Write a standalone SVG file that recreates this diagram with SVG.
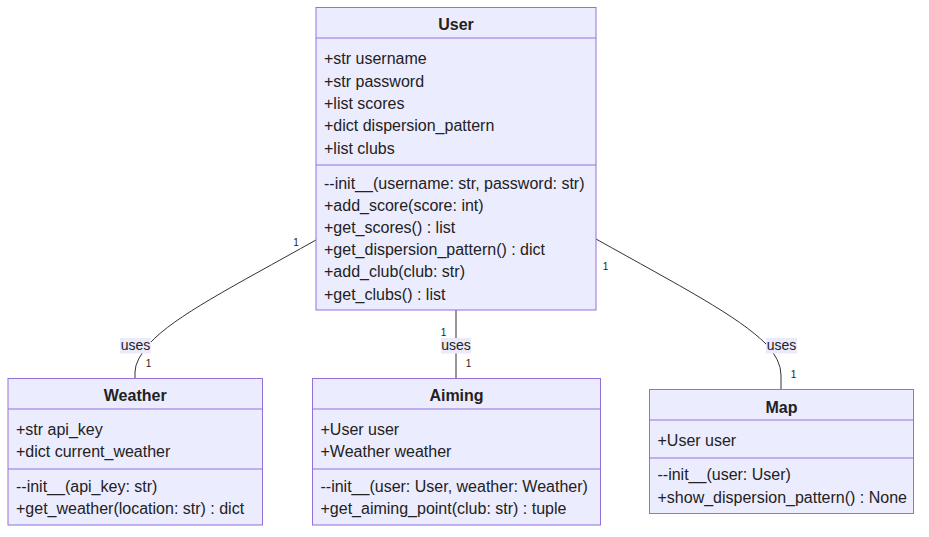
<svg xmlns="http://www.w3.org/2000/svg" width="929" height="537" viewBox="0 0 929 537">
<style>
.box{fill:#ECECFF;stroke:#9370DB;stroke-width:1}
.div{stroke:#9370DB;stroke-width:1}
.t{font-family:"Liberation Sans",Arial,sans-serif;font-size:16px;fill:#222}
.title{font-weight:bold;text-anchor:middle}
.edge{fill:none;stroke:#333;stroke-width:1}
.lblbg{fill:#EAEAFA}
.lbl{font-family:"Liberation Sans",Arial,sans-serif;font-size:14px;fill:#222;text-anchor:middle}
.card{font-family:"Liberation Sans",Arial,sans-serif;font-size:10px;fill:#222;text-anchor:middle}
</style>
<rect width="929" height="537" fill="#ffffff"/>
<g id="connectors">
  <path class="edge" d="M316,240 C232,287 175,316 150,343 Q135,360 135,372 L135,378.5"/>
  <path class="edge" d="M456,310 L456,378.5"/>
  <path class="edge" d="M596,239 C680,286 738,316 766,344 Q781,360 781,375 L781,389.5"/>
  <rect class="lblbg" x="120" y="338" width="31" height="15.5"/>
  <text class="lbl" x="135.5" y="349.5">uses</text>
  <rect class="lblbg" x="441" y="338" width="30" height="15.5"/>
  <text class="lbl" x="456" y="349.5">uses</text>
  <rect class="lblbg" x="766" y="338" width="31" height="15.5"/>
  <text class="lbl" x="781.5" y="349.5">uses</text>
  <text class="card" x="296" y="246">1</text>
  <text class="card" x="148.5" y="366.5">1</text>
  <text class="card" x="443.5" y="335.5">1</text>
  <text class="card" x="468.5" y="366.5">1</text>
  <text class="card" x="605.5" y="270">1</text>
  <text class="card" x="793.5" y="378">1</text>
</g>
<g id="User">
  <rect class="box" x="316" y="7.5" width="280" height="302.5"/>
  <line class="div" x1="316" y1="38" x2="596" y2="38"/>
  <line class="div" x1="316" y1="165" x2="596" y2="165"/>
  <text class="t title" x="456" y="30">User</text>
  <text class="t" x="324" y="64">+str username</text>
  <text class="t" x="324" y="86.5">+str password</text>
  <text class="t" x="324" y="109">+list scores</text>
  <text class="t" x="324" y="131">+dict dispersion_pattern</text>
  <text class="t" x="324" y="153.5">+list clubs</text>
  <text class="t" x="324" y="188.5">--init__(username: str, password: str)</text>
  <text class="t" x="324" y="210.5">+add_score(score: int)</text>
  <text class="t" x="324" y="233">+get_scores() : list</text>
  <text class="t" x="324" y="255">+get_dispersion_pattern() : dict</text>
  <text class="t" x="324" y="277">+add_club(club: str)</text>
  <text class="t" x="324" y="299.5">+get_clubs() : list</text>
</g>
<g id="Weather">
  <rect class="box" x="8" y="378.5" width="254.5" height="146.5"/>
  <line class="div" x1="8" y1="409" x2="262.5" y2="409"/>
  <line class="div" x1="8" y1="469" x2="262.5" y2="469"/>
  <text class="t title" x="135.2" y="401">Weather</text>
  <text class="t" x="16" y="435">+str api_key</text>
  <text class="t" x="16" y="457">+dict current_weather</text>
  <text class="t" x="16" y="492">--init__(api_key: str)</text>
  <text class="t" x="16" y="513.5">+get_weather(location: str) : dict</text>
</g>
<g id="Aiming">
  <rect class="box" x="312.5" y="378.5" width="288" height="146.5"/>
  <line class="div" x1="312.5" y1="409" x2="600.5" y2="409"/>
  <line class="div" x1="312.5" y1="469" x2="600.5" y2="469"/>
  <text class="t title" x="456.5" y="401">Aiming</text>
  <text class="t" x="320.5" y="435">+User user</text>
  <text class="t" x="320.5" y="457">+Weather weather</text>
  <text class="t" x="320.5" y="492">--init__(user: User, weather: Weather)</text>
  <text class="t" x="320.5" y="513.5">+get_aiming_point(club: str) : tuple</text>
</g>
<g id="Map">
  <rect class="box" x="649.5" y="389.5" width="264" height="124"/>
  <line class="div" x1="649.5" y1="420" x2="913.5" y2="420"/>
  <line class="div" x1="649.5" y1="458" x2="913.5" y2="458"/>
  <text class="t title" x="781.5" y="412.5">Map</text>
  <text class="t" x="657.5" y="446">+User user</text>
  <text class="t" x="657.5" y="480">--init__(user: User)</text>
  <text class="t" x="657.5" y="502.5">+show_dispersion_pattern() : None</text>
</g>
</svg>
